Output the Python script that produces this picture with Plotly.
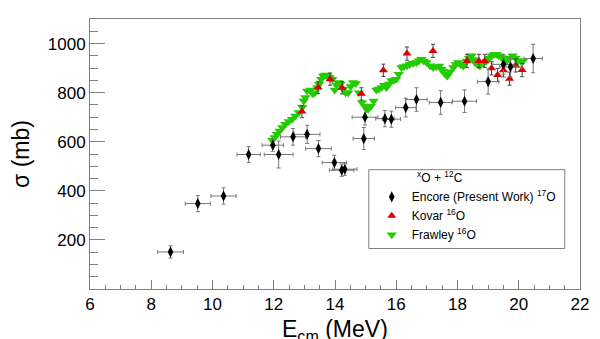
import plotly.graph_objects as go

# Encore (Present Work) 17O + 12C
enc_x = [8.63, 9.52, 10.36, 11.18, 11.97, 12.16, 12.63, 13.09, 13.46, 13.98, 14.22, 14.32,
         14.94, 14.98, 15.63, 15.84, 16.31, 16.66, 17.45, 18.23, 19.00, 19.50, 19.73, 20.47]
enc_y = [151, 348, 379, 548, 586, 548, 620, 630, 572, 515, 484, 488,
         613, 700, 694, 692, 739, 772, 760, 765, 845, 915, 905, 939]
enc_xerr = [0.42, 0.41, 0.41, 0.38, 0.35, 0.47, 0.41, 0.42, 0.42, 0.40, 0.40, 0.40,
            0.35, 0.42, 0.30, 0.30, 0.33, 0.35, 0.37, 0.39, 0.35, 0.35, 0.35, 0.30]
enc_yerr = [25, 33, 33, 33, 25, 55, 34, 37, 33, 30, 25, 25,
            45, 32, 33, 33, 38, 48, 48, 46, 51, 40, 40, 58]

# Kovar 16O + 12C
kov_x = [12.92, 13.45, 13.84, 14.23, 14.86, 15.58, 16.35, 17.20, 18.31, 18.70, 18.89,
         19.11, 19.31, 19.50, 19.70, 19.90, 20.11]
kov_y = [723, 821, 855, 820, 795, 891, 959, 970, 929, 929, 929,
         899, 872, 891, 857, 911, 892]
kov_yerr = [25, 25, 25, 25, 25, 25, 27, 27, 27, 27, 27,
            27, 27, 27, 27, 27, 27]

# Frawley 16O + 12C
fra_x = [11.95, 12.03, 12.10, 12.19, 12.28, 12.38, 12.49, 12.60, 12.70, 12.82, 12.93, 12.98,
         13.03, 13.09, 13.20, 13.27, 13.34, 13.42, 13.48, 13.55, 13.61, 13.68, 13.75, 13.83,
         13.91, 13.99, 14.05, 14.10, 14.18, 14.27, 14.35, 14.43, 14.51, 14.59, 14.68, 14.78,
         14.88, 14.97, 15.03, 15.08, 15.17, 15.26, 15.35, 15.43, 15.52, 15.60, 15.68, 15.76,
         15.84, 15.92, 16.00, 16.08, 16.17, 16.25, 16.35, 16.44, 16.55, 16.66, 16.74, 16.82,
         16.90, 16.99, 17.10, 17.20, 17.30, 17.40, 17.47, 17.53, 17.60, 17.67, 17.76, 17.86,
         17.94, 18.02, 18.10, 18.19, 18.30, 18.38, 18.46, 18.52, 18.57, 18.65, 18.73, 18.84,
         18.95, 19.03, 19.11, 19.19, 19.27, 19.35, 19.44, 19.52, 19.60, 19.70, 19.80, 19.89,
         19.98, 20.06, 20.14]
fra_y = [606, 617, 630, 644, 658, 671, 682, 692, 705, 719, 740, 766,
         780, 807, 811, 795, 800, 820, 834, 855, 868, 872, 868, 862,
         855, 811, 830, 841, 835, 815, 800, 800, 825, 841, 837, 800,
         760, 746, 735, 732, 745, 766, 811, 815, 821, 830, 821, 835,
         848, 850, 855, 875, 902, 906, 910, 916, 920, 923, 930, 936,
         929, 923, 910, 902, 905, 909, 895, 888, 875, 868, 885, 902,
         915, 923, 915, 909, 929, 940, 950, 935, 923, 915, 909, 920,
         929, 940, 950, 955, 956, 950, 943, 935, 929, 940, 950, 940,
         929, 930, 929]

x_ticks = [6, 8, 10, 12, 14, 16, 18, 20, 22]
y_ticks = [200, 400, 600, 800, 1000]

FONT = "Liberation Sans"
GRAY = "#808080"

fig = go.Figure()

fig.add_trace(go.Scatter(
    x=fra_x, y=fra_y, mode="markers", name="Frawley <sup>16</sup>O", legendrank=3,
    marker=dict(symbol="triangle-down", size=9, color="#22cc00"),
))
fig.add_trace(go.Scatter(
    x=kov_x, y=kov_y, mode="markers", name="Kovar <sup>16</sup>O", legendrank=2,
    marker=dict(symbol="triangle-up", size=8, color="#dd0000"),
    error_y=dict(type="data", array=kov_yerr, color="#444444", thickness=1, width=2),
))
fig.add_trace(go.Scatter(
    x=enc_x, y=enc_y, mode="markers", name="Encore (Present Work) <sup>17</sup>O", legendrank=1,
    marker=dict(symbol="diamond-tall", size=8, color="black"),
    error_x=dict(type="data", array=enc_xerr, color="#777777", thickness=1, width=2),
    error_y=dict(type="data", array=enc_yerr, color="#777777", thickness=1, width=2),
))

# legend frame (opaque box like the reference)
fig.add_shape(type="rect", xref="paper", yref="paper",
              x0=0.569, x1=0.969, y0=0.150, y1=0.442,
              line=dict(color=GRAY, width=1), fillcolor="white", layer="above")

# x-axis title placed as an annotation so it sits as low as in the reference
fig.add_annotation(text="E<sub>cm</sub> (MeV)", xref="paper", yref="paper",
                   x=0.5, y=-0.093, xanchor="center", yanchor="top",
                   showarrow=False, font=dict(size=23, family=FONT, color="black"))

# the page body adds an 8px offset, so the figure is 8px smaller than the window
fig.update_layout(
    width=592, height=331,
    margin=dict(l=82, r=20, t=11, b=50),
    paper_bgcolor="white", plot_bgcolor="white",
    font=dict(family=FONT, color="black"),
    showlegend=True,
    legend=dict(
        x=0.575, y=0.453, xanchor="left", yanchor="top",
        bgcolor="rgba(0,0,0,0)", borderwidth=0,
        font=dict(size=12, family=FONT),
        title=dict(text="\u00a0" * 13 + "<sup>x</sup>O + <sup>12</sup>C",
                   font=dict(size=12, family=FONT)),
        traceorder="normal",
    ),
    xaxis=dict(
        range=[6, 22], tickvals=x_ticks, ticks="inside", ticklen=9, tickcolor=GRAY,
        showline=True, linecolor=GRAY, mirror=True, showgrid=False, zeroline=False,
        tickfont=dict(size=17), automargin=False,
        minor=dict(dtick=0.5, tick0=6, ticks="inside", ticklen=4.5, tickcolor=GRAY, showgrid=False),
    ),
    yaxis=dict(
        range=[0.1, 1100], tickvals=y_ticks, ticks="inside", ticklen=15, tickcolor=GRAY,
        showline=True, linecolor=GRAY, mirror=True, showgrid=False, zeroline=False,
        tickfont=dict(size=17), automargin=False,
        minor=dict(dtick=50, tick0=0, ticks="inside", ticklen=7.5, tickcolor=GRAY, showgrid=False),
        title=dict(text="σ (mb)", font=dict(size=23), standoff=14),
    ),
)

fig.write_html("out.html")
